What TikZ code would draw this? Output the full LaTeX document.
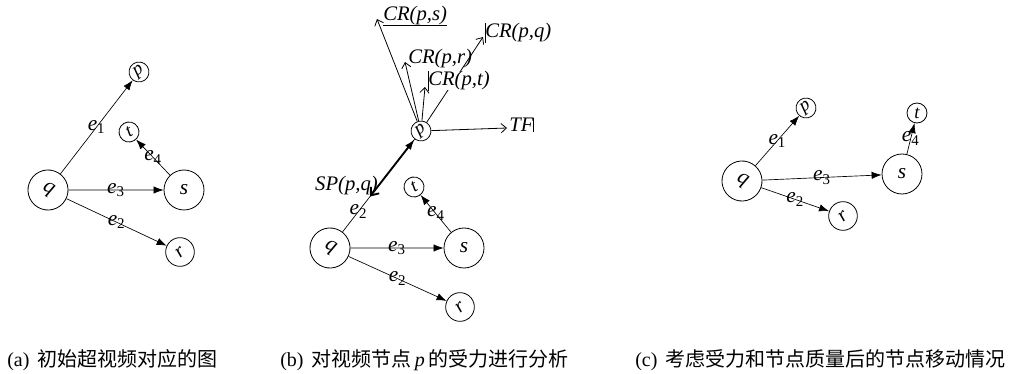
\documentclass[tikz,border=0pt]{standalone}
\usepackage{fontspec}
\setmainfont{Liberation Serif}
\newfontfamily\cjk{Noto Sans CJK SC}
\usetikzlibrary{arrows.meta,calc}
\newcommand{\elab}[1]{\textit{e}\textsubscript{#1}}
\tikzset{
	vbig/.style={circle,draw,line width=0.6pt,minimum size=30pt,inner sep=0pt,font=\fontsize{16}{16}\selectfont\itshape},
	vmid/.style={circle,draw,line width=0.6pt,minimum size=21.5pt,inner sep=0pt,font=\fontsize{15}{15}\selectfont\itshape},
	vsmall/.style={circle,draw,line width=0.6pt,minimum size=15pt,inner sep=0pt,font=\fontsize{14}{14}\selectfont\itshape},
	edg/.style={-{Latex[length=7.5pt,width=5.5pt]},line width=0.5pt},
	lab/.style={inner sep=0pt,font=\fontsize{16}{16}\selectfont},
	crarr/.style={-{Straight Barb[length=4pt,width=7pt]},line width=0.6pt},
	sparr/.style={{Straight Barb[length=5pt,width=8pt]}-{Latex[length=8pt,width=5.5pt]},line width=1.4pt},
	crlab/.style={inner sep=0pt,font=\fontsize{15.5}{15.5}\selectfont\itshape},
	capt/.style={anchor=west,inner sep=0pt,font=\fontsize{15}{15}\selectfont}
}
\begin{document}
\begin{tikzpicture}[x=0.75pt,y=-0.75pt]
		\useasboundingbox (0,0) rectangle (1022,374);
		% (a)
		\node[vbig,rotate=-30] (qa) at (48,190) {q};
		\node[vsmall,rotate=35] (pa) at (139,72) {p};
		\node[vsmall,rotate=30] (ta) at (129,132) {t};
		\node[vbig] (sa) at (184,190) {s};
		\node[vmid,rotate=40] (ra) at (180,252) {r};
		\draw[edg] (qa) -- node[lab]{\elab{1}} (pa);
		\draw[edg] (qa) -- node[lab]{\elab{3}} (sa);
		\draw[edg] (qa) -- node[lab]{\elab{2}} (ra);
		\draw[edg] (sa) -- node[lab]{\elab{4}} (ta);
		% (b)
		\node[vbig,rotate=-30] (qb) at (330,248) {q};
		\node[vsmall,rotate=35] (pb) at (421,131) {p};
		\node[vsmall,rotate=30] (tb) at (414,187) {t};
		\node[vbig] (sb) at (464,248) {s};
		\node[vmid,rotate=40] (rb) at (460,307) {r};
		\draw[line width=0.5pt] (qb) -- node[lab,pos=0.22]{\elab{2}} (pb);
		\draw[edg] (qb) -- node[lab]{\elab{3}} (sb);
		\draw[edg] (qb) -- node[lab]{\elab{2}} (rb);
		\draw[edg] (sb) -- node[lab]{\elab{4}} (tb);
		\coordinate (spend) at ($(qb)!0.44!(pb)$);
		\draw[sparr] (spend) -- (pb);
		\coordinate (tips) at (377,19);
		\coordinate (tipq) at (483,37);
		\coordinate (tipr) at (405,62);
		\coordinate (tipt) at (425,87);
		\coordinate (tipf) at (507,128);
		\foreach \t in {tips,tipq,tipr,tipt,tipf}
		{
			\draw[crarr] (pb) -- (\t);
		}
		\node[crlab,anchor=west] (crs) at (383,16) {CR(p,s)};
		\node[crlab,anchor=west] (crq) at (485,33) {CR(p,q)};
		\node[crlab,anchor=west] (crr) at (408,59) {CR(p,r)};
		\node[crlab,anchor=west,fill=white] (crt) at (428,81) {CR(p,t)};
		\node[crlab,anchor=west] (tf) at (509,125) {TF};
		\node[crlab,anchor=east] (sp) at (378,186) {SP(p,q)};
		\draw[line width=0.5pt] (crs.south west) -- (crs.south east);
		\draw[line width=0.5pt] (crq.north west) -- (crq.south west);
		\draw[line width=0.5pt] (crt.north west) -- (crt.south west);
		\draw[line width=0.5pt] (tf.north east) -- (tf.south east);
		% (c)
		\node[vbig,rotate=-30] (qc) at (742,181) {q};
		\node[vsmall,rotate=35] (pc) at (806,108) {p};
		\node[vsmall] (tc) at (917,113) {t};
		\node[vbig] (sc) at (902,174) {s};
		\node[vmid,rotate=40] (rc) at (843,216) {r};
		\draw[edg] (qc) -- node[lab]{\elab{1}} (pc);
		\draw[edg] (qc) -- node[lab]{\elab{3}} (sc);
		\draw[edg] (qc) -- node[lab]{\elab{2}} (rc);
		\draw[edg] (sc) -- node[lab]{\elab{4}} (tc);
		% captions
		\node[capt] (capa) at (7,360) {(a)\hspace{6pt}{\cjk 初始超视频对应的图}};
		\node[capt] (capb) at (280,360) {(b)\hspace{6pt}{\cjk 对视频节点}\,\textit{p}\,{\cjk 的受力进行分析}};
		\node[capt] (capc) at (635,360) {(c)\hspace{6pt}{\cjk 考虑受力和节点质量后的节点移动情况}};
\end{tikzpicture}
\end{document}
